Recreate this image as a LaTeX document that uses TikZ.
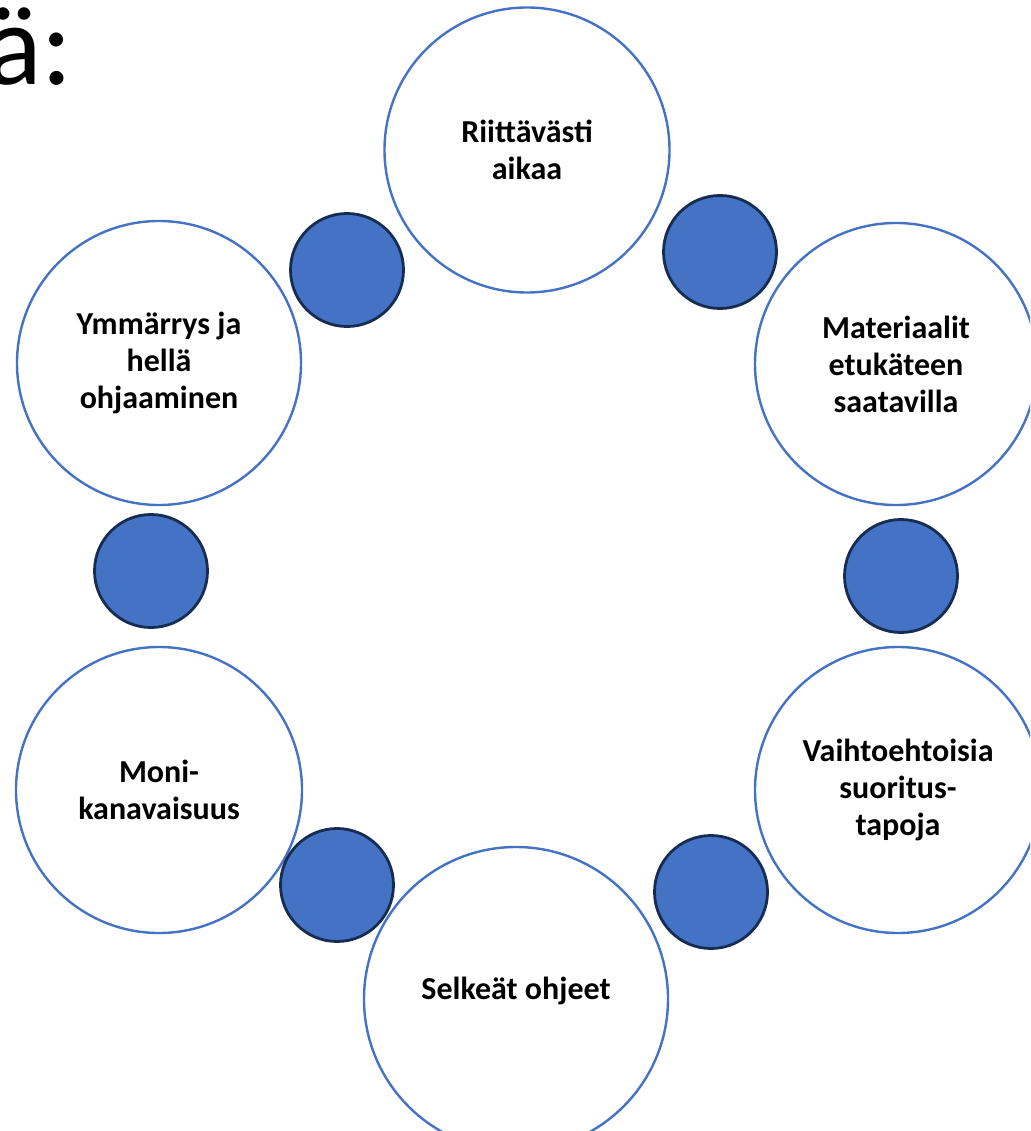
\documentclass[tikz,border=0pt]{standalone}
\usepackage{fontspec}
\setmainfont{Carlito}
\definecolor{ringblue}{HTML}{4472C4}
\definecolor{dotfill}{HTML}{4472C4}
\definecolor{dotline}{HTML}{172C51}
\begin{document}
\begin{tikzpicture}[x=1pt,y=-1pt,
  bigcircle/.style={circle,draw=ringblue,line width=2.4pt,fill=white,inner sep=0pt,
    align=center,font=\fontsize{32}{37}\selectfont\bfseries},
  dot/.style={circle,draw=dotline,line width=2.8pt,fill=dotfill,inner sep=0pt,minimum size=113pt}]
\useasboundingbox (0,0) rectangle (1030,1131);
\clip (0,0) rectangle (1030,1131);
\node[anchor=base west,inner sep=0pt,font=\fontsize{116}{120}\selectfont] (title) at (-14,85) {ä:};
% big circles
\node[bigcircle,minimum size=285pt] (top) at (527,150) {Riittävästi\\aikaa};
\node[bigcircle,minimum size=282pt] (tr) at (896,364) {Materiaalit\\etukäteen\\saatavilla};
\node[bigcircle,minimum size=286pt] (br) at (898,790) {Vaihtoehtoisia\\suoritus-\\tapoja};
\node[bigcircle,minimum size=304pt] (bot) at (516,999) {\raisebox{22pt}{Selkeät ohjeet}};
\node[bigcircle,minimum size=286pt] (bl) at (159,790) {Moni-\\kanavaisuus};
\node[bigcircle,minimum size=284pt] (tl) at (159,363) {Ymmärrys ja\\hellä\\ohjaaminen};
% small dots
\node[dot] (d1) at (720,252) {};
\node[dot] (d2) at (901,576) {};
\node[dot] (d3) at (711,892) {};
\node[dot] (d4) at (337,885) {};
\node[dot] (d5) at (151,571) {};
\node[dot] (d6) at (347,270) {};
\end{tikzpicture}
\end{document}
